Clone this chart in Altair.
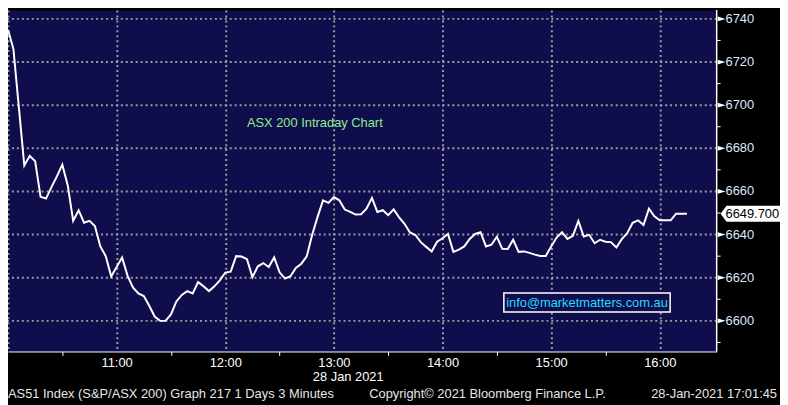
import altair as alt
import pandas as pd

# ASX 200 (AS51) intraday, 3-minute bars from 10:00 on 28 Jan 2021
values = [
    6735.0, 6726.0, 6699.0, 6672.0, 6676.5, 6674.0, 6657.5, 6656.7, 6662.0, 6667.0,
    6672.4, 6662.8, 6646.4, 6651.3, 6645.5, 6646.4, 6644.0, 6634.5, 6630.0, 6620.6,
    6625.0, 6629.4, 6621.0, 6615.5, 6612.7, 6611.5, 6607.0, 6602.0, 6600.0, 6600.0,
    6603.0, 6609.0, 6612.0, 6613.8, 6612.7, 6618.0, 6616.0, 6613.8, 6616.0, 6618.8,
    6622.4, 6622.8, 6630.0, 6629.8, 6628.6, 6620.3, 6625.3, 6626.8, 6625.0, 6629.4,
    6622.5, 6619.6, 6620.7, 6624.5, 6626.5, 6629.9, 6639.9, 6648.2, 6655.9, 6654.7,
    6657.4, 6655.9, 6651.6, 6650.5, 6649.3, 6649.4, 6652.0, 6657.0, 6650.5, 6651.3,
    6649.0, 6651.7, 6648.0, 6645.0, 6641.0, 6639.8, 6636.5, 6634.3, 6632.2, 6636.7,
    6638.3, 6640.3, 6632.0, 6633.0, 6634.5, 6638.0, 6640.3, 6641.1, 6634.5, 6635.3,
    6639.0, 6633.4, 6633.3, 6637.6, 6632.0, 6632.2, 6631.5, 6630.7, 6630.1, 6630.1,
    6634.5, 6638.6, 6641.1, 6638.0, 6639.4, 6646.3, 6639.1, 6639.9, 6636.0, 6637.6,
    6636.7, 6636.5, 6634.0, 6637.9, 6640.6, 6645.5, 6646.6, 6644.4, 6652.0, 6648.5,
    6646.6, 6646.6, 6646.6, 6649.7, 6649.7, 6649.7,
]
bar_minutes = 3
minutes = [i * bar_minutes for i in range(len(values))]

x_ticks = [0, 30, 60, 90, 120, 150, 180, 210, 240, 270, 300, 330, 360]
y_major = [6600, 6620, 6640, 6660, 6680, 6700, 6720, 6740]
y_minor = [6590, 6610, 6630, 6650, 6670, 6690, 6710, 6730]

title_text = "ASX 200 Intraday Chart"
info_text = "info@marketmatters.com.au"
date_text = "28 Jan 2021"
footer_left = "AS51 Index (S&P/ASX 200) Graph 217 1 Days 3 Minutes"
footer_mid = "Copyright\u00a9 2021 Bloomberg Finance L.P."
footer_right = "28-Jan-2021 17:01:45"

FONT = "Liberation Sans"
NAVY = "#0f0d4b"
GRID = "#9c9c9c"

W, H = 716, 345
x_scale = alt.Scale(domain=[0, 391.4], nice=False, zero=False)
y_scale = alt.Scale(domain=[6585.8, 6744.1], nice=False, zero=False)

df = pd.DataFrame({"minute": minutes, "price": values})
major_df = pd.DataFrame({"p": y_major})
one = pd.DataFrame({"k": [0]})

x_axis = alt.Axis(
    values=x_ticks,
    labelExpr="(datum.value == 0 || datum.value % 60 != 0) ? '' : (10 + datum.value / 60) + ':00'",
    grid=True, gridColor=GRID, gridDash=[2, 3], gridWidth=2,
    gridOpacity={"condition": {"test": "datum.value % 60 == 0", "value": 1}, "value": 0},
    tickOpacity={"condition": {"test": "datum.value % 60 == 0", "value": 0}, "value": 1},
    tickSize=4, tickColor="white", tickWidth=1,
    domainColor="white", domainWidth=1,
    labelColor="white", labelFont=FONT, labelFontSize=13,
    labelBaseline="alphabetic", labelPadding=11,
    labelOverlap=False, labelFlush=False, labelBound=False, title=None,
)

# horizontal dotted grid at the labelled price levels
hgrid = alt.Chart(major_df).mark_rule(
    color=GRID, strokeWidth=2, strokeDash=[2, 3]
).encode(y=alt.Y("p:Q", scale=y_scale, axis=None))

line = alt.Chart(df).mark_line(color="white", strokeWidth=2).encode(
    x=alt.X("minute:Q", scale=x_scale, axis=x_axis),
    y=alt.Y("price:Q", scale=y_scale, axis=None),
)

# right-hand price axis
y_domain = alt.Chart(one).mark_rule(color="white", strokeWidth=1.5).encode(
    x=alt.value(W), y=alt.value(0), y2=alt.value(H)
)
minor_ticks = alt.Chart(pd.DataFrame({"p": y_minor})).mark_rule(
    color="white", strokeWidth=1
).encode(
    x=alt.value(W), x2=alt.value(W + 4),
    y=alt.Y("p:Q", scale=y_scale, axis=None),
)
arrows = alt.Chart(major_df).mark_point(
    shape="M-1,-0.6L1,0L-1,0.6Z", filled=True, color="white", opacity=1, size=64
).encode(
    x=alt.value(W + 5),
    y=alt.Y("p:Q", scale=y_scale, axis=None),
)
y_labels = alt.Chart(major_df).mark_text(
    font=FONT, fontSize=13, color="#dce8ff", align="left", baseline="middle"
).encode(
    x=alt.value(W + 9),
    y=alt.Y("p:Q", scale=y_scale, axis=None),
    text=alt.Text("p:Q", format="d"),
)

last_df = pd.DataFrame({"p": [values[-1]], "t": [f"{values[-1]:.3f}"]})
last_box = alt.Chart(last_df).mark_point(
    shape="M-1,0L-0.8,-0.27L1,-0.27L1,0.27L-0.8,0.27Z",
    filled=True, color="white", opacity=1, size=3600,
).encode(x=alt.value(W + 34), y=alt.Y("p:Q", scale=y_scale, axis=None))
last_txt = alt.Chart(last_df).mark_text(
    font=FONT, fontSize=13, color="black", align="center", baseline="middle"
).encode(x=alt.value(W + 36), y=alt.Y("p:Q", scale=y_scale, axis=None), text="t:N")

title = alt.Chart(pd.DataFrame({"t": [title_text]})).mark_text(
    font=FONT, fontSize=13, color="#8fec8f", align="center", baseline="middle"
).encode(x=alt.value(310), y=alt.value(114.5), text="t:N")

info_box = alt.Chart(one).mark_rect(
    fill=NAVY, stroke="white", strokeWidth=1.5
).encode(x=alt.value(501), x2=alt.value(669), y=alt.value(286), y2=alt.value(305))
info = alt.Chart(pd.DataFrame({"t": [info_text]})).mark_text(
    font=FONT, fontSize=13, color="#22ddff", align="center", baseline="middle"
).encode(x=alt.value(585), y=alt.value(296), text="t:N")

date = alt.Chart(pd.DataFrame({"t": [date_text]})).mark_text(
    font=FONT, fontSize=13, color="white", align="left", baseline="alphabetic"
).encode(x=alt.value(308), y=alt.value(375), text="t:N")

f1 = alt.Chart(pd.DataFrame({"t": [footer_left]})).mark_text(
    font=FONT, fontSize=13, color="#e6e6e6", align="left", baseline="alphabetic"
).encode(x=alt.value(0), y=alt.value(392), text="t:N")
f2 = alt.Chart(pd.DataFrame({"t": [footer_mid]})).mark_text(
    font=FONT, fontSize=13, color="#e6e6e6", align="left", baseline="alphabetic"
).encode(x=alt.value(365), y=alt.value(392), text="t:N")
f3 = alt.Chart(pd.DataFrame({"t": [footer_right]})).mark_text(
    font=FONT, fontSize=13, color="#e6e6e6", align="right", baseline="alphabetic"
).encode(x=alt.value(777), y=alt.value(392), text="t:N")

chart = alt.layer(
    hgrid, line, y_domain, minor_ticks, arrows, y_labels, info_box, info, title,
    last_box, last_txt, date, f1, f2, f3
).properties(
    width=W, height=H,
    autosize=alt.AutoSizeParams(type="none"),
    padding={"left": 0, "top": 0, "right": 64, "bottom": 52},
    background="black",
).configure_view(fill=NAVY, stroke="transparent")

chart.save("out.html", embed_options={"renderer": "svg", "actions": False})
